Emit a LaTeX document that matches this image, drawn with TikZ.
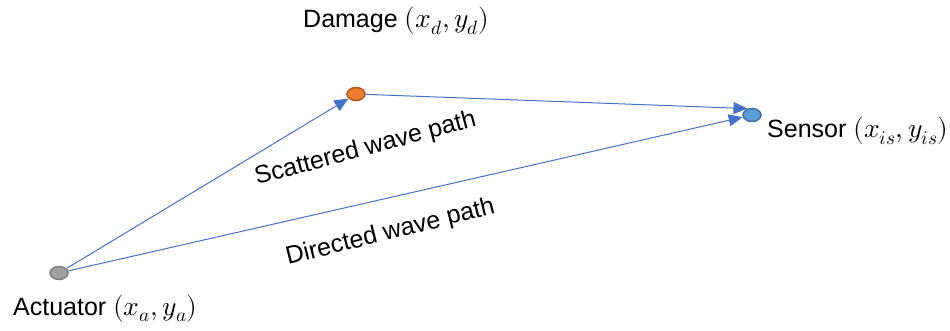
\documentclass[tikz,border=0pt]{standalone}
\usepackage{fontspec}
\usepackage{unicode-math}
\setmainfont{Liberation Sans}
\setmathfont{Latin Modern Math}[Scale=1.1]
\usetikzlibrary{arrows.meta,shapes.geometric}
\definecolor{lineblue}{HTML}{4472C4}
\definecolor{dmgfill}{HTML}{ED7D31}
\definecolor{dmgdraw}{HTML}{AE5A21}
\definecolor{senfill}{HTML}{5B9BD5}
\definecolor{sendraw}{HTML}{41719C}
\definecolor{actfill}{HTML}{A0A0A0}
\definecolor{actdraw}{HTML}{7F7F7F}
\tikzset{
  dot/.style={ellipse, line width=1.5pt, minimum width=18pt, minimum height=13pt, inner sep=0pt},
  wave/.style={draw=lineblue, line width=1pt, -{Triangle[length=14pt,width=12pt]}},
  lbl/.style={font=\fontsize{25}{30}\selectfont, inner sep=0pt, anchor=base west},
}
\begin{document}
\begin{tikzpicture}[x=1pt,y=-1pt]
\path[use as bounding box, fill=white] (0,0) rectangle (950,331);
\node[dot, fill=actfill, draw=actdraw] (a) at (59,273) {};
\node[dot, fill=dmgfill, draw=dmgdraw] (d) at (356,94) {};
\node[dot, fill=senfill, draw=sendraw] (s) at (752,115) {};
\draw[wave] (a) -- (d);
\draw[wave] (d) -- (s.125);
\draw[wave] (a) -- (s);
\node[lbl] (ld) at (303,28) {Damage $(x_d,y_d)$};
\node[lbl] (ls) at (767,138) {Sensor $(x_{is},y_{is})$};
\node[lbl] (la) at (13,315) {Actuator $(x_a,y_a)$};
\node[lbl, rotate=15] (lsc) at (257,185) {Scattered wave path};
\node[lbl, rotate=14] (ldi) at (288,265) {Directed wave path};
\end{tikzpicture}
\end{document}
